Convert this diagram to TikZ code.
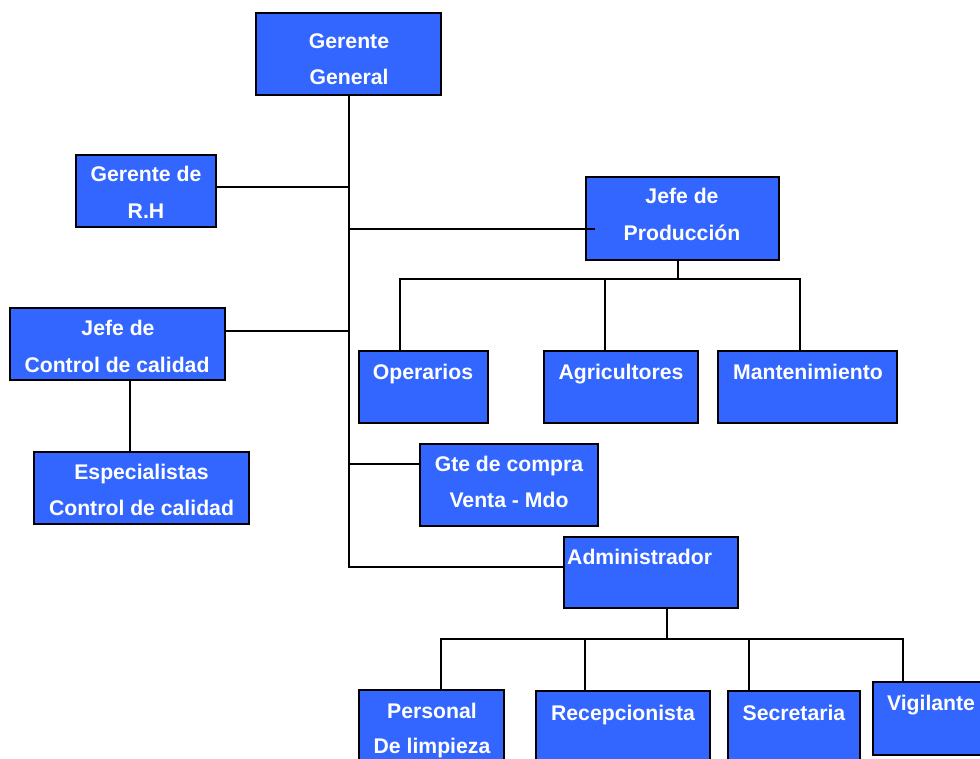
\documentclass[tikz,border=0pt]{standalone}
\usepackage{fontspec}
\setmainfont{Liberation Sans}
\usetikzlibrary{fit}
\definecolor{boxblue}{HTML}{3366FF}
\begin{document}
\begin{tikzpicture}[x=1pt,y=-1pt,
  box/.style={draw=black, line width=2pt, fill=boxblue, inner sep=0pt},
  lbl/.style={text=white, font=\fontsize{21.2}{24}\selectfont\bfseries, inner sep=0pt, anchor=base},
  conn/.style={line width=2pt, draw=black}]
\useasboundingbox[fill=white] (0,0) rectangle (980,759);

% boxes
\node[box, fit={(256,13)(441,95)}] (gg) {};
\node[box, fit={(76,155)(216,227)}] (rh) {};
\node[box, fit={(586,177)(779,260)}] (jp) {};
\node[box, fit={(10,308)(225,380)}] (jc) {};
\node[box, fit={(34,452)(249,524)}] (esp) {};
\node[box, fit={(359,351)(488,423)}] (op) {};
\node[box, fit={(544,351)(698,423)}] (ag) {};
\node[box, fit={(718,351)(897,423)}] (ma) {};
\node[box, fit={(420,444)(598,526)}] (gc) {};
\node[box, fit={(564,537)(738,608)}] (adm) {};
\node[box, fit={(359,690)(504,775)}] (pl) {};
\node[box, fit={(536,691)(710,775)}] (rc) {};
\node[box, fit={(728,691)(860,775)}] (sc) {};
\node[box, fit={(873,682)(995,755)}] (vg) {};

% labels
\node[lbl] (gg1) at (349,49) {Gerente};
\node[lbl] (gg2) at (349,85) {General};
\node[lbl] (rh1) at (146,182) {Gerente de};
\node[lbl] (rh2) at (146,219) {R.H};
\node[lbl] (jp1) at (682,204) {Jefe de};
\node[lbl] (jp2) at (682,241) {Producción};
\node[lbl] (jc1) at (118,335) {Jefe de};
\node[lbl] (jc2) at (117,372) {Control de calidad};
\node[lbl] (es1) at (141.5,479) {Especialistas};
\node[lbl] (es2) at (141.5,515) {Control de calidad};
\node[lbl] (op1) at (423,379) {Operarios};
\node[lbl] (ag1) at (621,379) {Agricultores};
\node[lbl] (ma1) at (808,379) {Mantenimiento};
\node[lbl] (gc1) at (509,471) {Gte de compra};
\node[lbl] (gc2) at (509,507) {Venta - Mdo};
\node[lbl, anchor=base west] (ad1) at (567,564) {Administrador};
\node[lbl] (pl1) at (432,718) {Personal};
\node[lbl] (pl2) at (432,753) {De limpieza};
\node[lbl] (rc1) at (623,720) {Recepcionista};
\node[lbl] (sc1) at (794,720) {Secretaria};
\node[lbl] (vg1) at (931,710) {Vigilante};

% junction coordinates
\coordinate (tb) at (349,567);
\coordinate (rhj) at (349,187);
\coordinate (jpj) at (349,229);
\coordinate (jcj) at (349,331);
\coordinate (gcj) at (349,464);
\coordinate (esj) at (130,0);
\coordinate (pbus) at (678,279);
\coordinate (abus) at (667,639);

% connectors
\draw[conn] (gg.south) -- (gg.south |- tb) -- (tb -| adm.west);
\draw[conn] (rhj -| rh.east) -- (rhj);
\draw[conn] (jpj) -- ([xshift=10pt]jpj -| jp.west);
\draw[conn] (jcj -| jc.east) -- (jcj);
\draw[conn] (gcj) -- (gcj -| gc.west);
\draw[conn] (esj |- jc.south) -- (esj |- esp.north);

\draw[conn] (pbus |- jp.south) -- (pbus);
\draw[conn] (400,351 |- op.north) -- (400,279) -- (800,279) -- (800,351 |- ma.north);
\draw[conn] (605,279) -- (605,351 |- ag.north);

\draw[conn] (abus |- adm.south) -- (abus);
\draw[conn] (441,690 |- pl.north) -- (441,639) -- (903,639) -- (903,682 |- vg.north);
\draw[conn] (585,639) -- (585,691 |- rc.north);
\draw[conn] (749,639) -- (749,691 |- sc.north);
\end{tikzpicture}
\end{document}
